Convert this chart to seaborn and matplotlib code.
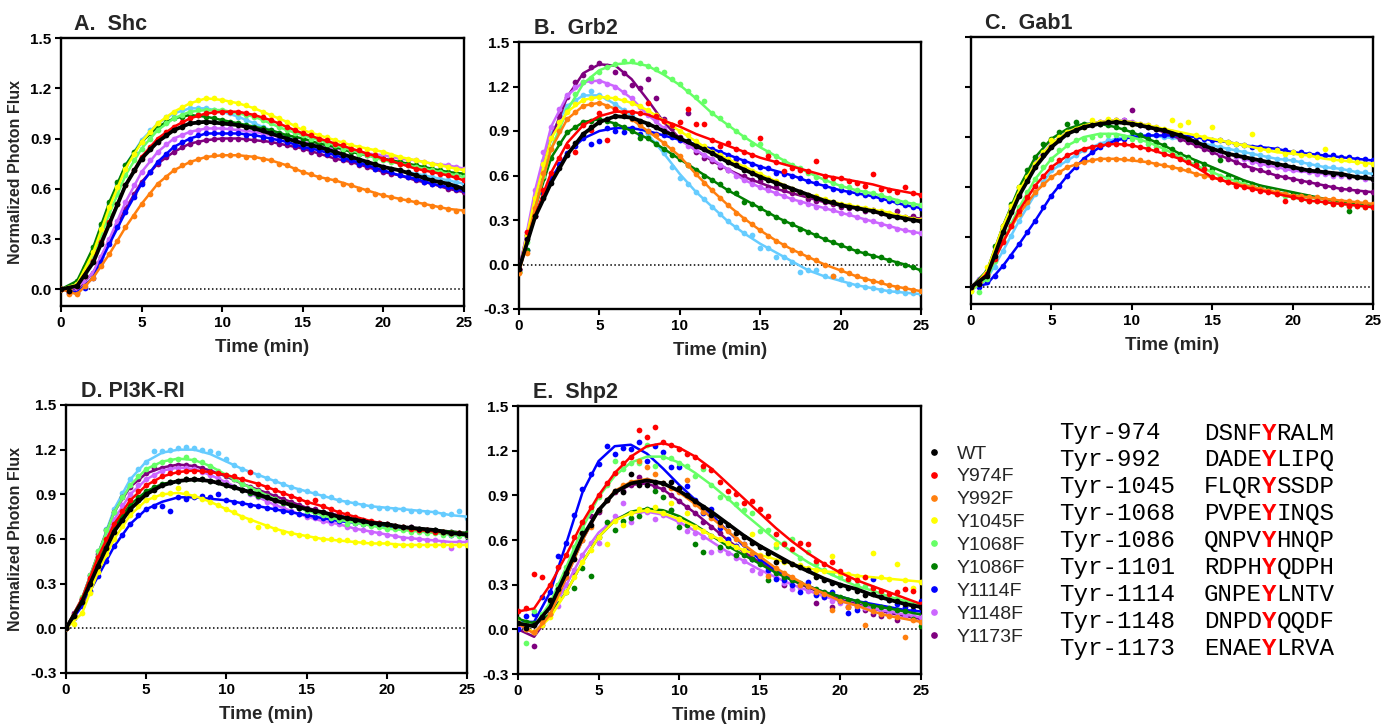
import numpy as np
import pandas as pd
import matplotlib
matplotlib.use("Agg")
from matplotlib import pyplot as plt
from matplotlib.lines import Line2D
from matplotlib.ticker import FormatStrFormatter
import seaborn as sns

FIT_STEP = 1.0   # minutes between fitted curve values
OBS_STEP = 0.5   # minutes between measured points

mutants = ["WT", "Y974F", "Y992F", "Y1045F", "Y1068F", "Y1086F",
           "Y1114F", "Y1148F", "Y1173F", "Y1101F"]
# Y1101F (light blue) is plotted but is missing from the published legend
legend_mutants = mutants[:9]
colors = {
    "WT": "#000000", "Y974F": "#ff0000", "Y992F": "#ff7f0e", "Y1045F": "#ffff00",
    "Y1068F": "#66ff66", "Y1086F": "#007f00", "Y1114F": "#0000ff",
    "Y1148F": "#cc66ff", "Y1173F": "#7f007f", "Y1101F": "#66ccff",
}
draw_order = ["Y1101F", "Y1173F", "Y1148F", "Y1114F", "Y1086F", "Y1068F",
              "Y1045F", "Y992F", "Y974F", "WT"]

# ---------------- A. Shc ----------------
shc_fit = {
    "WT": [0.00, 0.02, 0.16, 0.39, 0.62, 0.78, 0.88, 0.95, 0.99, 1.00, 0.99, 0.98, 0.96, 0.93, 0.90, 0.87, 0.85, 0.82, 0.79, 0.76, 0.73, 0.71, 0.68, 0.65, 0.63, 0.60],
    "Y1086F": [0.00, 0.05, 0.25, 0.52, 0.74, 0.88, 0.97, 1.02, 1.04, 1.03, 1.01, 0.99, 0.97, 0.95, 0.92, 0.90, 0.87, 0.85, 0.82, 0.80, 0.78, 0.76, 0.74, 0.72, 0.70, 0.69],
    "Y1045F": [0.00, 0.03, 0.22, 0.49, 0.72, 0.88, 0.99, 1.06, 1.11, 1.14, 1.13, 1.11, 1.08, 1.04, 1.00, 0.95, 0.92, 0.89, 0.86, 0.84, 0.82, 0.79, 0.77, 0.75, 0.73, 0.71],
    "Y1101F": [0.00, 0.04, 0.24, 0.51, 0.74, 0.89, 0.99, 1.05, 1.08, 1.08, 1.06, 1.03, 0.99, 0.95, 0.91, 0.87, 0.84, 0.81, 0.78, 0.75, 0.73, 0.71, 0.69, 0.67, 0.65, 0.63],
    "Y1068F": [0.00, 0.03, 0.20, 0.45, 0.68, 0.84, 0.95, 1.02, 1.06, 1.07, 1.07, 1.05, 1.03, 0.99, 0.95, 0.92, 0.89, 0.86, 0.83, 0.80, 0.77, 0.75, 0.73, 0.71, 0.69, 0.67],
    "Y974F": [0.00, 0.02, 0.17, 0.40, 0.62, 0.79, 0.90, 0.97, 1.02, 1.05, 1.06, 1.06, 1.04, 1.01, 0.97, 0.93, 0.90, 0.87, 0.84, 0.81, 0.78, 0.75, 0.72, 0.70, 0.68, 0.65],
    "Y1148F": [0.00, 0.01, 0.10, 0.30, 0.52, 0.70, 0.82, 0.90, 0.94, 0.96, 0.96, 0.95, 0.94, 0.92, 0.90, 0.88, 0.86, 0.84, 0.83, 0.81, 0.80, 0.78, 0.77, 0.75, 0.74, 0.72],
    "Y1114F": [0.00, -0.02, 0.07, 0.27, 0.46, 0.63, 0.76, 0.85, 0.90, 0.93, 0.93, 0.93, 0.92, 0.90, 0.88, 0.85, 0.83, 0.80, 0.77, 0.74, 0.71, 0.68, 0.66, 0.63, 0.61, 0.59],
    "Y1173F": [0.00, 0.00, 0.10, 0.29, 0.48, 0.64, 0.75, 0.82, 0.87, 0.89, 0.90, 0.90, 0.89, 0.88, 0.86, 0.84, 0.81, 0.78, 0.76, 0.73, 0.70, 0.68, 0.65, 0.63, 0.60, 0.58],
    "Y992F": [0.00, -0.03, 0.07, 0.21, 0.37, 0.51, 0.63, 0.71, 0.76, 0.79, 0.80, 0.80, 0.79, 0.77, 0.74, 0.70, 0.67, 0.65, 0.62, 0.59, 0.56, 0.54, 0.52, 0.50, 0.48, 0.47],
}
shc_obs = {
    "WT": [0.00, -0.01, 0.02, 0.08, 0.16, 0.27, 0.39, 0.51, 0.62, 0.71, 0.78, 0.84, 0.88, 0.92, 0.95, 0.97, 0.99, 1.00, 1.00, 1.00, 0.99, 0.99, 0.98, 0.97, 0.96, 0.95, 0.93, 0.92, 0.90, 0.89, 0.87, 0.86, 0.85, 0.83, 0.82, 0.80, 0.79, 0.77, 0.76, 0.75, 0.73, 0.72, 0.71, 0.70, 0.68, 0.67, 0.65, 0.64, 0.63, 0.61, 0.60],
    "Y1086F": [0.00, -0.01, 0.05, 0.13, 0.25, 0.39, 0.52, 0.64, 0.74, 0.82, 0.88, 0.93, 0.97, 1.00, 1.02, 1.03, 1.04, 1.04, 1.03, 1.02, 1.01, 1.00, 0.99, 0.98, 0.97, 0.96, 0.95, 0.93, 0.92, 0.91, 0.90, 0.88, 0.87, 0.86, 0.85, 0.83, 0.82, 0.81, 0.80, 0.79, 0.78, 0.77, 0.76, 0.75, 0.74, 0.73, 0.72, 0.71, 0.70, 0.69, 0.69],
    "Y1045F": [0.00, 0.00, 0.03, 0.11, 0.22, 0.36, 0.49, 0.61, 0.72, 0.81, 0.88, 0.94, 0.99, 1.03, 1.06, 1.09, 1.11, 1.13, 1.14, 1.14, 1.13, 1.12, 1.11, 1.10, 1.08, 1.06, 1.04, 1.02, 1.00, 0.98, 0.96, 0.94, 0.92, 0.91, 0.89, 0.88, 0.86, 0.85, 0.84, 0.83, 0.82, 0.80, 0.79, 0.78, 0.77, 0.76, 0.75, 0.74, 0.73, 0.72, 0.71],
    "Y1101F": [0.00, -0.01, 0.04, 0.12, 0.24, 0.38, 0.51, 0.63, 0.74, 0.82, 0.89, 0.95, 0.99, 1.03, 1.05, 1.07, 1.08, 1.08, 1.08, 1.07, 1.06, 1.05, 1.03, 1.01, 0.99, 0.97, 0.95, 0.93, 0.91, 0.89, 0.87, 0.86, 0.84, 0.83, 0.81, 0.80, 0.78, 0.77, 0.75, 0.74, 0.73, 0.72, 0.71, 0.70, 0.69, 0.68, 0.67, 0.66, 0.65, 0.64, 0.63],
    "Y1068F": [0.00, -0.01, 0.03, 0.10, 0.20, 0.32, 0.45, 0.57, 0.68, 0.77, 0.84, 0.90, 0.95, 0.99, 1.02, 1.04, 1.06, 1.07, 1.07, 1.07, 1.07, 1.06, 1.05, 1.04, 1.03, 1.01, 0.99, 0.97, 0.95, 0.93, 0.92, 0.90, 0.89, 0.87, 0.86, 0.84, 0.83, 0.81, 0.80, 0.78, 0.77, 0.76, 0.75, 0.74, 0.73, 0.72, 0.71, 0.70, 0.69, 0.68, 0.67],
    "Y974F": [0.00, -0.01, 0.02, 0.08, 0.17, 0.28, 0.40, 0.51, 0.62, 0.71, 0.79, 0.85, 0.90, 0.94, 0.97, 1.00, 1.02, 1.04, 1.05, 1.06, 1.06, 1.06, 1.06, 1.05, 1.04, 1.03, 1.01, 0.99, 0.97, 0.95, 0.93, 0.92, 0.90, 0.89, 0.87, 0.86, 0.84, 0.83, 0.81, 0.80, 0.78, 0.77, 0.75, 0.74, 0.72, 0.71, 0.70, 0.69, 0.68, 0.67, 0.65],
    "Y1148F": [0.00, -0.01, 0.01, 0.04, 0.10, 0.19, 0.30, 0.41, 0.52, 0.62, 0.70, 0.77, 0.82, 0.87, 0.90, 0.92, 0.94, 0.95, 0.96, 0.96, 0.96, 0.96, 0.95, 0.95, 0.94, 0.93, 0.92, 0.91, 0.90, 0.89, 0.88, 0.87, 0.86, 0.85, 0.84, 0.84, 0.83, 0.82, 0.81, 0.80, 0.80, 0.79, 0.78, 0.77, 0.77, 0.76, 0.75, 0.74, 0.74, 0.73, 0.72],
    "Y1114F": [0.00, -0.02, -0.02, 0.01, 0.07, 0.16, 0.27, 0.37, 0.46, 0.55, 0.63, 0.70, 0.76, 0.81, 0.85, 0.88, 0.90, 0.92, 0.93, 0.93, 0.93, 0.93, 0.93, 0.92, 0.92, 0.91, 0.90, 0.89, 0.88, 0.86, 0.85, 0.84, 0.83, 0.81, 0.80, 0.78, 0.77, 0.75, 0.74, 0.72, 0.71, 0.70, 0.68, 0.67, 0.66, 0.64, 0.63, 0.62, 0.61, 0.60, 0.59],
    "Y1173F": [0.00, -0.01, 0.00, 0.04, 0.10, 0.19, 0.29, 0.39, 0.48, 0.57, 0.64, 0.70, 0.75, 0.79, 0.82, 0.85, 0.87, 0.88, 0.89, 0.90, 0.90, 0.90, 0.90, 0.90, 0.89, 0.89, 0.88, 0.87, 0.86, 0.85, 0.84, 0.82, 0.81, 0.80, 0.78, 0.77, 0.76, 0.74, 0.73, 0.72, 0.70, 0.69, 0.68, 0.67, 0.65, 0.64, 0.63, 0.62, 0.60, 0.59, 0.58],
    "Y992F": [0.00, -0.03, -0.03, 0.02, 0.07, 0.14, 0.21, 0.29, 0.37, 0.44, 0.51, 0.57, 0.63, 0.67, 0.71, 0.74, 0.76, 0.78, 0.79, 0.80, 0.80, 0.80, 0.80, 0.79, 0.79, 0.78, 0.77, 0.75, 0.74, 0.72, 0.70, 0.69, 0.67, 0.66, 0.65, 0.63, 0.62, 0.60, 0.59, 0.57, 0.56, 0.55, 0.54, 0.53, 0.52, 0.51, 0.50, 0.49, 0.48, 0.47, 0.47],
}

# ---------------- B. Grb2 ----------------
grb2_fit = {
    "WT": [-0.03, 0.32, 0.55, 0.74, 0.88, 0.96, 1.00, 0.99, 0.95, 0.90, 0.85, 0.80, 0.75, 0.69, 0.64, 0.59, 0.55, 0.51, 0.47, 0.43, 0.40, 0.38, 0.36, 0.33, 0.31, 0.29],
    "Y1173F": [-0.03, 0.45, 0.85, 1.13, 1.29, 1.35, 1.34, 1.25, 1.11, 0.96, 0.85, 0.77, 0.70, 0.64, 0.59, 0.55, 0.51, 0.48, 0.45, 0.42, 0.40, 0.38, 0.36, 0.34, 0.32, 0.31],
    "Y1068F": [-0.05, 0.38, 0.78, 1.04, 1.22, 1.31, 1.35, 1.36, 1.34, 1.28, 1.21, 1.12, 1.02, 0.94, 0.86, 0.79, 0.73, 0.67, 0.62, 0.57, 0.53, 0.50, 0.48, 0.45, 0.42, 0.40],
    "Y1148F": [-0.05, 0.50, 0.93, 1.14, 1.23, 1.24, 1.20, 1.12, 1.01, 0.92, 0.84, 0.77, 0.71, 0.64, 0.57, 0.52, 0.48, 0.44, 0.41, 0.38, 0.35, 0.32, 0.29, 0.26, 0.23, 0.21],
    "Y1101F": [-0.05, 0.45, 0.88, 1.07, 1.14, 1.14, 1.08, 1.00, 0.88, 0.75, 0.61, 0.49, 0.39, 0.29, 0.21, 0.14, 0.08, 0.02, -0.04, -0.08, -0.11, -0.14, -0.16, -0.18, -0.19, -0.20],
    "Y992F": [-0.06, 0.38, 0.78, 0.98, 1.07, 1.09, 1.05, 0.98, 0.90, 0.82, 0.73, 0.61, 0.50, 0.40, 0.31, 0.23, 0.16, 0.10, 0.05, 0.00, -0.04, -0.08, -0.11, -0.14, -0.16, -0.18],
    "Y1045F": [-0.05, 0.45, 0.85, 1.03, 1.11, 1.13, 1.12, 1.09, 1.04, 0.97, 0.90, 0.83, 0.76, 0.71, 0.66, 0.61, 0.56, 0.51, 0.47, 0.44, 0.41, 0.39, 0.37, 0.35, 0.32, 0.30],
    "Y974F": [-0.03, 0.33, 0.62, 0.82, 0.94, 1.00, 1.03, 1.03, 1.01, 0.97, 0.93, 0.88, 0.84, 0.80, 0.76, 0.72, 0.69, 0.66, 0.63, 0.60, 0.58, 0.56, 0.54, 0.51, 0.49, 0.47],
    "Y1086F": [-0.05, 0.38, 0.72, 0.89, 0.96, 0.98, 0.95, 0.90, 0.85, 0.78, 0.71, 0.64, 0.57, 0.50, 0.44, 0.38, 0.32, 0.27, 0.22, 0.17, 0.13, 0.09, 0.06, 0.03, 0.00, -0.04],
    "Y1114F": [-0.04, 0.33, 0.58, 0.75, 0.85, 0.90, 0.92, 0.92, 0.90, 0.87, 0.84, 0.81, 0.78, 0.74, 0.70, 0.66, 0.63, 0.60, 0.56, 0.53, 0.50, 0.48, 0.46, 0.43, 0.40, 0.38],
}
grb2_obs = {
    "WT": [-0.03, 0.17, 0.33, 0.45, 0.55, 0.65, 0.74, 0.82, 0.88, 0.93, 0.96, 0.98, 1.00, 1.00, 0.99, 0.97, 0.95, 0.93, 0.90, 0.88, 0.85, 0.83, 0.80, 0.78, 0.75, 0.72, 0.69, 0.67, 0.64, 0.62, 0.59, 0.57, 0.55, 0.53, 0.51, 0.49, 0.47, 0.45, 0.43, 0.42, 0.40, 0.39, 0.38, 0.37, 0.36, 0.35, 0.33, 0.32, 0.31, 0.30, 0.29],
    "Y1173F": [-0.03, 0.20, 0.45, 0.68, 0.85, 1.00, 1.13, 1.23, 1.28, 1.33, 1.36, 1.34, 1.30, 1.29, 1.21, 1.19, 1.25, 1.12, 0.98, 0.92, 0.86, 1.02, 0.76, 0.72, 0.70, 0.66, 0.64, 0.71, 0.60, 0.57, 0.56, 0.52, 0.52, 0.50, 0.48, 0.48, 0.44, 0.43, 0.42, 0.41, 0.39, 0.38, 0.38, 0.36, 0.37, 0.35, 0.34, 0.36, 0.32, 0.33, 0.31],
    "Y1068F": [-0.05, 0.15, 0.38, 0.60, 0.78, 0.92, 1.04, 1.15, 1.23, 1.26, 1.30, 1.33, 1.35, 1.37, 1.37, 1.36, 1.34, 1.32, 1.30, 1.25, 1.22, 1.17, 1.13, 1.10, 1.02, 0.99, 0.94, 0.90, 0.86, 0.81, 0.81, 0.76, 0.73, 0.70, 0.67, 0.65, 0.62, 0.59, 0.57, 0.55, 0.53, 0.52, 0.50, 0.49, 0.48, 0.47, 0.45, 0.43, 0.42, 0.41, 0.40],
    "Y1148F": [-0.05, 0.22, 0.50, 0.76, 0.93, 1.05, 1.14, 1.20, 1.23, 1.24, 1.24, 1.22, 1.20, 1.16, 1.12, 1.06, 1.01, 0.97, 0.92, 0.88, 0.84, 0.80, 0.77, 0.74, 0.71, 0.67, 0.64, 0.60, 0.57, 0.54, 0.52, 0.50, 0.48, 0.46, 0.44, 0.42, 0.41, 0.39, 0.38, 0.37, 0.35, 0.34, 0.32, 0.30, 0.29, 0.27, 0.26, 0.24, 0.23, 0.22, 0.21],
    "Y1101F": [-0.05, 0.20, 0.45, 0.70, 0.88, 1.00, 1.07, 1.11, 1.14, 1.17, 1.14, 1.12, 1.08, 1.04, 1.00, 0.95, 0.88, 0.82, 0.75, 0.66, 0.58, 0.54, 0.49, 0.44, 0.39, 0.34, 0.29, 0.25, 0.21, 0.20, 0.11, 0.11, 0.05, 0.05, 0.02, -0.05, -0.04, -0.04, -0.08, -0.08, -0.10, -0.13, -0.14, -0.15, -0.16, -0.17, -0.18, -0.18, -0.19, -0.19, -0.20],
    "Y992F": [-0.06, 0.08, 0.38, 0.62, 0.78, 0.90, 0.98, 1.03, 1.07, 1.08, 1.09, 1.07, 1.05, 1.02, 0.98, 0.94, 0.90, 0.87, 0.82, 0.78, 0.73, 0.67, 0.61, 0.55, 0.50, 0.45, 0.40, 0.35, 0.31, 0.27, 0.23, 0.19, 0.16, 0.13, 0.10, 0.08, 0.05, 0.03, 0.00, -0.08, -0.04, -0.06, -0.08, -0.10, -0.11, -0.12, -0.14, -0.15, -0.16, -0.17, -0.18],
    "Y1045F": [-0.05, 0.20, 0.45, 0.68, 0.85, 0.96, 1.03, 1.08, 1.11, 1.12, 1.13, 1.13, 1.12, 1.11, 1.09, 1.07, 1.04, 1.01, 0.97, 0.94, 0.90, 0.87, 0.83, 0.80, 0.76, 0.74, 0.71, 0.68, 0.66, 0.63, 0.61, 0.58, 0.56, 0.53, 0.51, 0.49, 0.47, 0.46, 0.44, 0.42, 0.41, 0.40, 0.39, 0.38, 0.37, 0.36, 0.35, 0.33, 0.32, 0.31, 0.30],
    "Y974F": [-0.03, 0.22, 0.33, 0.50, 0.62, 0.72, 0.80, 0.76, 0.94, 0.91, 1.02, 0.84, 1.05, 1.03, 1.03, 1.02, 1.09, 1.00, 0.97, 0.94, 0.96, 1.05, 0.95, 0.95, 0.84, 0.80, 0.82, 0.78, 0.76, 0.74, 0.85, 0.73, 0.69, 0.63, 0.65, 0.64, 0.63, 0.70, 0.60, 0.58, 0.58, 0.56, 0.55, 0.53, 0.61, 0.51, 0.50, 0.49, 0.52, 0.48, 0.47],
    "Y1086F": [-0.05, 0.10, 0.38, 0.58, 0.72, 0.82, 0.89, 0.93, 0.96, 0.97, 0.98, 0.97, 0.95, 0.93, 0.90, 0.85, 0.85, 0.81, 0.78, 0.74, 0.71, 0.67, 0.64, 0.60, 0.57, 0.54, 0.50, 0.48, 0.42, 0.41, 0.38, 0.35, 0.32, 0.29, 0.27, 0.24, 0.22, 0.20, 0.17, 0.15, 0.13, 0.11, 0.09, 0.08, 0.06, 0.05, 0.03, 0.01, 0.00, -0.02, -0.04],
    "Y1114F": [-0.04, 0.10, 0.33, 0.48, 0.58, 0.68, 0.75, 0.80, 0.85, 0.81, 0.83, 0.92, 0.90, 0.89, 0.92, 0.88, 0.90, 0.88, 0.87, 0.86, 0.84, 0.83, 0.81, 0.79, 0.78, 0.76, 0.74, 0.72, 0.70, 0.68, 0.66, 0.65, 0.62, 0.61, 0.60, 0.58, 0.56, 0.55, 0.53, 0.51, 0.50, 0.49, 0.48, 0.47, 0.46, 0.44, 0.43, 0.42, 0.40, 0.39, 0.38],
}

# ---------------- C. Gab1 ----------------
gab1_fit = {
    "WT": [0.00, 0.07, 0.33, 0.55, 0.72, 0.84, 0.92, 0.96, 0.98, 0.99, 0.98, 0.96, 0.94, 0.91, 0.87, 0.83, 0.80, 0.78, 0.76, 0.74, 0.72, 0.70, 0.69, 0.68, 0.66, 0.65],
    "Y1045F": [-0.02, 0.10, 0.37, 0.58, 0.74, 0.86, 0.93, 0.97, 0.99, 1.00, 0.99, 0.97, 0.95, 0.93, 0.91, 0.89, 0.87, 0.85, 0.83, 0.81, 0.80, 0.79, 0.77, 0.76, 0.75, 0.74],
    "Y1114F": [0.00, 0.02, 0.13, 0.26, 0.40, 0.55, 0.67, 0.77, 0.84, 0.88, 0.90, 0.91, 0.91, 0.91, 0.90, 0.88, 0.87, 0.85, 0.84, 0.83, 0.81, 0.80, 0.79, 0.78, 0.77, 0.76],
    "Y1101F": [0.00, 0.05, 0.22, 0.40, 0.56, 0.70, 0.76, 0.82, 0.86, 0.89, 0.91, 0.91, 0.90, 0.89, 0.87, 0.85, 0.83, 0.81, 0.79, 0.77, 0.76, 0.74, 0.72, 0.71, 0.69, 0.68],
    "Y1148F": [0.00, 0.10, 0.37, 0.58, 0.75, 0.86, 0.93, 0.97, 0.99, 1.00, 0.99, 0.97, 0.94, 0.91, 0.87, 0.83, 0.80, 0.77, 0.74, 0.72, 0.70, 0.69, 0.68, 0.67, 0.66, 0.65],
    "Y1173F": [0.00, 0.09, 0.35, 0.56, 0.73, 0.85, 0.93, 0.97, 0.99, 1.00, 0.99, 0.96, 0.93, 0.89, 0.85, 0.81, 0.77, 0.73, 0.70, 0.67, 0.65, 0.63, 0.61, 0.59, 0.58, 0.57],
    "Y1086F": [0.00, 0.10, 0.37, 0.60, 0.78, 0.89, 0.95, 0.98, 0.98, 0.96, 0.93, 0.89, 0.85, 0.80, 0.76, 0.72, 0.68, 0.64, 0.61, 0.59, 0.57, 0.55, 0.53, 0.51, 0.50, 0.49],
    "Y1068F": [-0.02, 0.05, 0.28, 0.48, 0.65, 0.77, 0.85, 0.90, 0.92, 0.92, 0.90, 0.87, 0.83, 0.78, 0.73, 0.69, 0.65, 0.62, 0.59, 0.56, 0.54, 0.52, 0.51, 0.50, 0.49, 0.48],
    "Y974F": [0.00, 0.08, 0.27, 0.46, 0.61, 0.72, 0.79, 0.83, 0.85, 0.86, 0.85, 0.83, 0.80, 0.77, 0.72, 0.66, 0.63, 0.60, 0.58, 0.56, 0.54, 0.52, 0.51, 0.50, 0.49, 0.48],
    "Y992F": [0.00, 0.08, 0.28, 0.44, 0.57, 0.66, 0.72, 0.75, 0.77, 0.77, 0.76, 0.75, 0.73, 0.71, 0.68, 0.66, 0.63, 0.61, 0.59, 0.57, 0.55, 0.54, 0.53, 0.52, 0.51, 0.50],
}
gab1_obs = {
    "WT": [0.00, 0.02, 0.07, 0.19, 0.33, 0.45, 0.55, 0.64, 0.72, 0.79, 0.84, 0.88, 0.92, 0.94, 0.96, 0.97, 0.98, 0.99, 0.99, 0.99, 0.98, 0.97, 0.96, 0.95, 0.94, 0.92, 0.91, 0.89, 0.87, 0.85, 0.83, 0.82, 0.80, 0.79, 0.78, 0.77, 0.76, 0.75, 0.74, 0.73, 0.72, 0.71, 0.70, 0.70, 0.69, 0.68, 0.68, 0.67, 0.66, 0.66, 0.65],
    "Y1045F": [-0.02, 0.03, 0.12, 0.22, 0.37, 0.49, 0.60, 0.66, 0.74, 0.81, 0.88, 0.90, 0.93, 0.95, 0.96, 1.00, 0.99, 1.01, 1.00, 0.99, 0.98, 0.98, 0.97, 0.96, 0.95, 1.00, 0.97, 0.99, 0.91, 0.90, 0.96, 0.88, 0.87, 0.86, 0.85, 0.92, 0.83, 0.82, 0.82, 0.80, 0.81, 0.79, 0.79, 0.78, 0.83, 0.77, 0.76, 0.76, 0.75, 0.74, 0.74],
    "Y1114F": [0.00, 0.00, 0.03, 0.07, 0.13, 0.19, 0.26, 0.33, 0.40, 0.48, 0.55, 0.61, 0.67, 0.72, 0.77, 0.81, 0.84, 0.86, 0.88, 0.89, 0.90, 0.91, 0.91, 0.91, 0.91, 0.91, 0.91, 0.90, 0.90, 0.89, 0.88, 0.88, 0.87, 0.86, 0.85, 0.84, 0.84, 0.83, 0.83, 0.82, 0.81, 0.81, 0.80, 0.80, 0.79, 0.79, 0.78, 0.78, 0.77, 0.77, 0.76],
    "Y1101F": [0.00, 0.02, 0.05, 0.12, 0.22, 0.31, 0.40, 0.48, 0.56, 0.63, 0.70, 0.74, 0.76, 0.79, 0.82, 0.84, 0.86, 0.88, 0.89, 0.90, 0.91, 0.91, 0.91, 0.91, 0.90, 0.90, 0.89, 0.88, 0.87, 0.86, 0.85, 0.84, 0.83, 0.82, 0.81, 0.80, 0.79, 0.78, 0.77, 0.77, 0.76, 0.75, 0.74, 0.73, 0.72, 0.72, 0.71, 0.70, 0.69, 0.69, 0.68],
    "Y1148F": [0.00, 0.05, 0.10, 0.24, 0.37, 0.48, 0.58, 0.67, 0.75, 0.81, 0.86, 0.90, 0.93, 0.95, 0.97, 0.98, 0.99, 1.00, 1.00, 1.00, 0.99, 0.98, 0.97, 0.96, 0.94, 0.93, 0.91, 0.89, 0.87, 0.85, 0.83, 0.81, 0.80, 0.78, 0.77, 0.75, 0.74, 0.73, 0.72, 0.71, 0.70, 0.70, 0.69, 0.68, 0.68, 0.67, 0.67, 0.66, 0.66, 0.65, 0.65],
    "Y1173F": [0.00, 0.03, 0.09, 0.22, 0.35, 0.46, 0.56, 0.65, 0.73, 0.80, 0.85, 0.89, 0.93, 0.95, 0.97, 0.98, 0.99, 1.00, 1.00, 1.00, 1.06, 0.97, 0.96, 0.95, 0.93, 0.91, 0.89, 0.87, 0.85, 0.83, 0.81, 0.79, 0.77, 0.75, 0.73, 0.71, 0.70, 0.69, 0.67, 0.66, 0.65, 0.64, 0.63, 0.62, 0.61, 0.60, 0.59, 0.59, 0.58, 0.57, 0.57],
    "Y1086F": [0.00, 0.03, 0.10, 0.25, 0.37, 0.50, 0.60, 0.70, 0.78, 0.86, 0.89, 0.93, 0.98, 0.99, 0.98, 0.98, 0.98, 0.97, 0.96, 0.95, 0.93, 0.91, 0.89, 0.87, 0.85, 0.83, 0.80, 0.78, 0.75, 0.74, 0.71, 0.76, 0.67, 0.65, 0.63, 0.62, 0.60, 0.59, 0.57, 0.56, 0.56, 0.55, 0.54, 0.53, 0.52, 0.52, 0.51, 0.46, 0.50, 0.50, 0.49],
    "Y1068F": [-0.02, -0.03, 0.05, 0.16, 0.28, 0.38, 0.48, 0.57, 0.65, 0.72, 0.77, 0.82, 0.85, 0.88, 0.89, 0.90, 0.91, 0.91, 0.91, 0.90, 0.89, 0.88, 0.86, 0.84, 0.82, 0.80, 0.78, 0.76, 0.73, 0.71, 0.69, 0.67, 0.65, 0.63, 0.62, 0.60, 0.59, 0.58, 0.56, 0.55, 0.54, 0.53, 0.52, 0.52, 0.51, 0.50, 0.50, 0.49, 0.49, 0.48, 0.48],
    "Y974F": [0.00, 0.03, 0.08, 0.17, 0.27, 0.37, 0.46, 0.54, 0.61, 0.67, 0.72, 0.76, 0.79, 0.81, 0.83, 0.84, 0.85, 0.86, 0.86, 0.86, 0.85, 0.84, 0.83, 0.82, 0.80, 0.79, 0.77, 0.75, 0.73, 0.71, 0.66, 0.65, 0.63, 0.61, 0.60, 0.59, 0.58, 0.57, 0.56, 0.52, 0.54, 0.53, 0.52, 0.52, 0.51, 0.50, 0.50, 0.49, 0.49, 0.48, 0.48],
    "Y992F": [0.00, 0.03, 0.08, 0.18, 0.28, 0.37, 0.44, 0.51, 0.57, 0.62, 0.66, 0.69, 0.72, 0.74, 0.75, 0.76, 0.77, 0.77, 0.77, 0.77, 0.77, 0.76, 0.75, 0.74, 0.73, 0.72, 0.71, 0.70, 0.68, 0.67, 0.66, 0.65, 0.63, 0.62, 0.61, 0.60, 0.59, 0.58, 0.57, 0.56, 0.55, 0.55, 0.54, 0.54, 0.53, 0.53, 0.52, 0.52, 0.51, 0.51, 0.50],
}

# ---------------- D. PI3K-RI ----------------
pi3k_fit = {
    "WT": [0.00, 0.18, 0.42, 0.65, 0.80, 0.90, 0.96, 0.99, 1.00, 0.99, 0.96, 0.93, 0.90, 0.86, 0.83, 0.80, 0.78, 0.75, 0.73, 0.71, 0.70, 0.68, 0.67, 0.66, 0.64, 0.63],
    "Y1101F": [0.00, 0.20, 0.50, 0.80, 1.00, 1.12, 1.18, 1.20, 1.20, 1.17, 1.12, 1.07, 1.03, 0.99, 0.95, 0.92, 0.89, 0.86, 0.84, 0.82, 0.81, 0.80, 0.79, 0.78, 0.76, 0.75],
    "Y1068F": [0.00, 0.20, 0.50, 0.78, 0.96, 1.07, 1.12, 1.14, 1.13, 1.09, 1.03, 0.97, 0.92, 0.87, 0.83, 0.79, 0.76, 0.73, 0.71, 0.69, 0.67, 0.66, 0.65, 0.64, 0.63, 0.62],
    "Y1173F": [0.00, 0.20, 0.50, 0.78, 0.95, 1.04, 1.08, 1.10, 1.09, 1.06, 1.02, 0.97, 0.93, 0.89, 0.85, 0.81, 0.78, 0.76, 0.73, 0.71, 0.70, 0.68, 0.67, 0.66, 0.65, 0.64],
    "Y1148F": [0.00, 0.18, 0.46, 0.73, 0.90, 1.00, 1.06, 1.08, 1.07, 1.03, 0.98, 0.93, 0.88, 0.83, 0.79, 0.75, 0.72, 0.70, 0.67, 0.65, 0.63, 0.61, 0.60, 0.59, 0.58, 0.58],
    "Y974F": [0.00, 0.20, 0.48, 0.70, 0.86, 0.96, 1.02, 1.05, 1.06, 1.05, 1.03, 1.00, 0.97, 0.93, 0.89, 0.85, 0.82, 0.78, 0.75, 0.72, 0.70, 0.68, 0.66, 0.65, 0.64, 0.63],
    "Y1086F": [0.00, 0.19, 0.45, 0.68, 0.83, 0.92, 0.97, 0.99, 1.00, 0.99, 0.96, 0.93, 0.89, 0.86, 0.83, 0.80, 0.77, 0.75, 0.73, 0.71, 0.69, 0.68, 0.67, 0.66, 0.65, 0.64],
    "Y1045F": [0.00, 0.10, 0.38, 0.60, 0.76, 0.86, 0.90, 0.91, 0.89, 0.85, 0.80, 0.75, 0.71, 0.67, 0.64, 0.62, 0.60, 0.59, 0.58, 0.57, 0.57, 0.56, 0.56, 0.56, 0.56, 0.56],
    "Y1114F": [0.00, 0.15, 0.35, 0.55, 0.70, 0.80, 0.85, 0.88, 0.88, 0.87, 0.86, 0.84, 0.82, 0.80, 0.78, 0.76, 0.74, 0.72, 0.71, 0.70, 0.68, 0.67, 0.66, 0.65, 0.63, 0.62],
}
pi3k_obs = {
    "WT": [0.00, 0.08, 0.18, 0.30, 0.42, 0.54, 0.65, 0.73, 0.80, 0.86, 0.90, 0.93, 0.96, 0.98, 0.99, 1.00, 1.00, 1.00, 0.99, 0.98, 0.96, 0.95, 0.93, 0.92, 0.90, 0.88, 0.86, 0.85, 0.83, 0.81, 0.80, 0.79, 0.78, 0.76, 0.75, 0.74, 0.73, 0.72, 0.71, 0.70, 0.70, 0.69, 0.68, 0.68, 0.67, 0.66, 0.66, 0.65, 0.64, 0.64, 0.63],
    "Y1101F": [0.00, 0.09, 0.20, 0.35, 0.52, 0.67, 0.80, 0.91, 1.00, 1.07, 1.12, 1.19, 1.19, 1.20, 1.21, 1.22, 1.21, 1.20, 1.19, 1.18, 1.14, 1.10, 1.07, 1.05, 1.03, 1.01, 0.99, 0.97, 0.95, 0.93, 0.92, 0.91, 0.89, 0.88, 0.86, 0.85, 0.84, 0.83, 0.82, 0.81, 0.81, 0.80, 0.80, 0.79, 0.79, 0.78, 0.78, 0.77, 0.77, 0.79, 0.74],
    "Y1068F": [0.00, 0.09, 0.21, 0.36, 0.52, 0.66, 0.78, 0.88, 0.96, 1.02, 1.07, 1.10, 1.12, 1.13, 1.14, 1.15, 1.13, 1.12, 1.09, 1.06, 1.03, 1.00, 0.97, 0.94, 0.92, 0.89, 0.87, 0.85, 0.83, 0.81, 0.79, 0.78, 0.76, 0.74, 0.73, 0.70, 0.71, 0.70, 0.69, 0.68, 0.67, 0.67, 0.66, 0.65, 0.65, 0.64, 0.64, 0.63, 0.63, 0.62, 0.62],
    "Y1173F": [0.00, 0.10, 0.20, 0.36, 0.50, 0.66, 0.78, 0.88, 0.95, 1.00, 1.04, 1.08, 1.08, 1.09, 1.10, 1.10, 1.09, 1.08, 1.06, 1.04, 1.02, 1.00, 0.97, 0.95, 0.93, 0.91, 0.89, 0.87, 0.85, 0.83, 0.81, 0.80, 0.78, 0.77, 0.76, 0.74, 0.73, 0.72, 0.71, 0.71, 0.70, 0.69, 0.68, 0.68, 0.67, 0.66, 0.66, 0.65, 0.65, 0.64, 0.64],
    "Y1148F": [0.00, 0.08, 0.18, 0.32, 0.46, 0.60, 0.73, 0.83, 0.90, 0.96, 1.00, 1.03, 1.06, 1.07, 1.08, 1.08, 1.07, 1.05, 1.03, 1.01, 0.98, 0.95, 0.93, 0.90, 0.88, 0.85, 0.83, 0.81, 0.79, 0.77, 0.75, 0.74, 0.72, 0.71, 0.70, 0.68, 0.67, 0.66, 0.65, 0.64, 0.63, 0.62, 0.61, 0.61, 0.60, 0.59, 0.59, 0.58, 0.54, 0.58, 0.58],
    "Y974F": [0.00, 0.09, 0.20, 0.34, 0.48, 0.60, 0.70, 0.79, 0.86, 0.92, 0.96, 0.99, 1.02, 1.04, 1.05, 1.06, 1.06, 1.06, 1.05, 1.04, 1.03, 1.02, 1.00, 1.05, 0.97, 0.95, 0.93, 0.91, 0.89, 0.87, 0.85, 0.86, 0.82, 0.80, 0.78, 0.77, 0.75, 0.73, 0.72, 0.71, 0.70, 0.69, 0.68, 0.67, 0.66, 0.66, 0.65, 0.65, 0.64, 0.64, 0.63],
    "Y1086F": [0.00, 0.08, 0.19, 0.32, 0.45, 0.58, 0.68, 0.76, 0.83, 0.88, 0.92, 0.95, 0.97, 0.98, 0.99, 1.00, 1.00, 1.00, 0.99, 0.98, 0.96, 0.95, 0.93, 0.91, 0.89, 0.88, 0.86, 0.84, 0.83, 0.81, 0.80, 0.78, 0.77, 0.76, 0.75, 0.74, 0.73, 0.72, 0.71, 0.70, 0.69, 0.69, 0.68, 0.67, 0.67, 0.66, 0.66, 0.65, 0.65, 0.64, 0.64],
    "Y1045F": [0.00, 0.03, 0.10, 0.24, 0.38, 0.50, 0.60, 0.69, 0.76, 0.82, 0.86, 0.88, 0.90, 0.91, 0.94, 0.91, 0.89, 0.87, 0.85, 0.83, 0.80, 0.78, 0.75, 0.73, 0.68, 0.69, 0.67, 0.65, 0.64, 0.63, 0.62, 0.61, 0.60, 0.60, 0.59, 0.59, 0.58, 0.58, 0.57, 0.57, 0.57, 0.56, 0.56, 0.56, 0.56, 0.56, 0.56, 0.56, 0.56, 0.56, 0.56],
    "Y1114F": [0.00, 0.07, 0.15, 0.25, 0.35, 0.45, 0.55, 0.63, 0.70, 0.76, 0.80, 0.82, 0.82, 0.79, 0.88, 0.87, 0.88, 0.89, 0.88, 0.90, 0.86, 0.85, 0.84, 0.83, 0.82, 0.81, 0.80, 0.79, 0.78, 0.77, 0.76, 0.75, 0.74, 0.73, 0.72, 0.72, 0.71, 0.70, 0.70, 0.69, 0.68, 0.68, 0.67, 0.67, 0.66, 0.65, 0.65, 0.64, 0.63, 0.63, 0.62],
}

# ---------------- E. Shp2 ----------------
shp2_fit = {
    "WT": [0.04, 0.02, 0.15, 0.38, 0.62, 0.80, 0.92, 0.98, 1.00, 0.98, 0.93, 0.86, 0.79, 0.71, 0.63, 0.56, 0.50, 0.44, 0.39, 0.34, 0.30, 0.27, 0.23, 0.20, 0.17, 0.15],
    "Y974F": [0.12, 0.14, 0.30, 0.50, 0.72, 0.90, 1.05, 1.16, 1.23, 1.25, 1.22, 1.16, 1.08, 0.98, 0.88, 0.78, 0.68, 0.59, 0.51, 0.44, 0.38, 0.33, 0.29, 0.25, 0.21, 0.17],
    "Y1114F": [0.05, 0.05, 0.25, 0.58, 0.92, 1.13, 1.23, 1.24, 1.18, 1.08, 0.97, 0.87, 0.77, 0.66, 0.56, 0.47, 0.40, 0.34, 0.29, 0.25, 0.22, 0.19, 0.17, 0.15, 0.13, 0.12],
    "Y1068F": [0.05, 0.02, 0.18, 0.42, 0.68, 0.89, 1.03, 1.12, 1.16, 1.16, 1.12, 1.05, 0.97, 0.88, 0.78, 0.69, 0.60, 0.52, 0.45, 0.39, 0.34, 0.29, 0.26, 0.22, 0.19, 0.16],
    "Y992F": [0.04, -0.03, 0.10, 0.35, 0.60, 0.80, 0.93, 0.99, 1.01, 0.98, 0.92, 0.84, 0.75, 0.66, 0.57, 0.49, 0.41, 0.35, 0.29, 0.24, 0.19, 0.16, 0.12, 0.09, 0.07, 0.05],
    "Y1173F": [0.00, -0.05, 0.10, 0.35, 0.60, 0.80, 0.92, 0.97, 0.98, 0.94, 0.86, 0.78, 0.69, 0.60, 0.52, 0.45, 0.39, 0.33, 0.28, 0.24, 0.20, 0.17, 0.14, 0.11, 0.09, 0.07],
    "Y1086F": [0.07, 0.04, 0.10, 0.25, 0.45, 0.62, 0.73, 0.79, 0.81, 0.80, 0.76, 0.70, 0.63, 0.56, 0.50, 0.44, 0.38, 0.33, 0.29, 0.25, 0.22, 0.19, 0.16, 0.14, 0.12, 0.10],
    "Y1045F": [0.04, -0.02, 0.08, 0.25, 0.45, 0.62, 0.73, 0.78, 0.80, 0.78, 0.74, 0.69, 0.63, 0.58, 0.53, 0.50, 0.47, 0.44, 0.41, 0.39, 0.38, 0.36, 0.35, 0.34, 0.33, 0.32],
    "Y1148F": [0.03, -0.02, 0.10, 0.30, 0.50, 0.65, 0.74, 0.78, 0.79, 0.77, 0.72, 0.66, 0.59, 0.52, 0.46, 0.40, 0.35, 0.30, 0.26, 0.22, 0.19, 0.16, 0.14, 0.12, 0.10, 0.08],
}
shp2_obs = {
    "WT": [0.04, 0.01, 0.03, 0.08, 0.20, 0.27, 0.38, 0.47, 0.65, 0.70, 0.80, 0.87, 0.93, 0.92, 1.04, 0.97, 0.97, 0.99, 0.98, 0.99, 0.95, 0.90, 0.86, 0.82, 0.77, 0.72, 0.70, 0.65, 0.62, 0.58, 0.55, 0.51, 0.45, 0.46, 0.44, 0.42, 0.40, 0.35, 0.33, 0.31, 0.30, 0.28, 0.26, 0.23, 0.24, 0.22, 0.20, 0.19, 0.17, 0.16, 0.15],
    "Y974F": [0.12, 0.14, 0.37, 0.35, 0.30, 0.42, 0.50, 0.62, 0.72, 0.82, 0.90, 0.98, 1.05, 1.12, 1.16, 1.34, 1.29, 1.36, 1.26, 1.24, 1.21, 1.18, 1.16, 1.10, 1.07, 0.99, 0.93, 0.91, 0.85, 0.86, 0.81, 0.76, 0.64, 0.57, 0.54, 0.58, 0.57, 0.46, 0.44, 0.45, 0.39, 0.34, 0.33, 0.35, 0.28, 0.26, 0.24, 0.25, 0.27, 0.26, 0.17],
    "Y1114F": [0.00, 0.09, 0.10, 0.22, 0.25, 0.49, 0.58, 0.77, 0.94, 1.04, 1.11, 1.23, 1.18, 1.22, 1.21, 1.26, 1.13, 1.23, 1.19, 1.09, 1.09, 0.96, 0.87, 0.78, 0.81, 0.68, 0.61, 0.56, 0.57, 0.47, 0.47, 0.40, 0.34, 0.33, 0.30, 0.25, 0.32, 0.23, 0.22, 0.25, 0.19, 0.11, 0.13, 0.18, 0.34, 0.23, 0.20, 0.17, 0.15, 0.13, 0.19],
    "Y1068F": [0.05, -0.09, 0.12, 0.10, 0.18, 0.30, 0.42, 0.55, 0.68, 0.80, 0.89, 0.97, 1.13, 1.08, 1.12, 1.12, 1.24, 1.10, 1.16, 1.15, 1.12, 1.10, 1.03, 1.08, 0.97, 0.89, 0.88, 0.84, 0.80, 0.78, 0.66, 0.67, 0.55, 0.58, 0.61, 0.48, 0.52, 0.44, 0.40, 0.38, 0.35, 0.33, 0.30, 0.29, 0.26, 0.25, 0.22, 0.21, 0.19, 0.17, 0.16],
    "Y992F": [0.04, 0.00, -0.02, 0.05, 0.10, 0.25, 0.35, 0.47, 0.60, 0.69, 0.80, 0.87, 0.93, 0.97, 0.99, 1.13, 1.09, 1.04, 0.98, 0.95, 0.92, 1.00, 0.84, 0.79, 0.75, 0.70, 0.66, 0.61, 0.57, 0.51, 0.49, 0.36, 0.41, 0.38, 0.35, 0.30, 0.29, 0.25, 0.24, 0.13, 0.19, 0.15, 0.16, 0.03, 0.12, 0.10, 0.09, 0.08, -0.05, 0.06, 0.05],
    "Y1173F": [0.00, 0.03, -0.11, 0.03, 0.15, 0.27, 0.35, 0.38, 0.60, 0.76, 0.79, 0.87, 0.92, 0.93, 0.97, 1.02, 1.00, 0.96, 0.94, 0.90, 0.86, 0.82, 0.78, 0.72, 0.69, 0.65, 0.60, 0.56, 0.52, 0.47, 0.45, 0.42, 0.39, 0.30, 0.33, 0.30, 0.28, 0.18, 0.24, 0.15, 0.20, 0.15, 0.17, 0.13, 0.10, 0.09, 0.10, 0.06, 0.09, 0.08, 0.07],
    "Y1086F": [0.07, 0.05, 0.04, 0.06, 0.10, 0.30, 0.25, 0.28, 0.41, 0.36, 0.62, 0.72, 0.67, 0.73, 0.75, 0.76, 0.81, 0.93, 0.89, 0.80, 0.69, 0.70, 0.57, 0.52, 0.63, 0.55, 0.56, 0.50, 0.50, 0.47, 0.44, 0.33, 0.38, 0.35, 0.33, 0.31, 0.29, 0.27, 0.25, 0.24, 0.22, 0.20, 0.19, 0.17, 0.16, 0.15, 0.14, 0.13, 0.12, 0.07, 0.02],
    "Y1045F": [0.04, 0.00, -0.02, 0.03, 0.08, 0.21, 0.25, 0.35, 0.45, 0.53, 0.62, 0.57, 0.73, 0.70, 0.78, 0.81, 0.80, 0.82, 0.78, 0.85, 0.74, 0.78, 0.69, 0.66, 0.63, 0.61, 0.58, 0.55, 0.53, 0.64, 0.50, 0.49, 0.57, 0.45, 0.44, 0.43, 0.41, 0.40, 0.39, 0.49, 0.38, 0.37, 0.36, 0.35, 0.51, 0.35, 0.34, 0.44, 0.33, 0.28, 0.32],
    "Y1148F": [0.03, 0.03, -0.02, 0.05, 0.10, 0.16, 0.30, 0.40, 0.50, 0.58, 0.58, 0.70, 0.76, 0.85, 0.72, 0.79, 0.79, 0.74, 0.77, 0.80, 0.72, 0.66, 0.65, 0.62, 0.52, 0.53, 0.51, 0.48, 0.46, 0.40, 0.38, 0.38, 0.35, 0.31, 0.27, 0.28, 0.26, 0.24, 0.22, 0.19, 0.18, 0.16, 0.15, 0.14, 0.12, 0.11, 0.10, 0.09, 0.09, 0.09, 0.08],
}

# phosphosite table on the right
tyr_sites = ["Tyr-974", "Tyr-992", "Tyr-1045", "Tyr-1068", "Tyr-1086",
             "Tyr-1101", "Tyr-1114", "Tyr-1148", "Tyr-1173"]
seq_before = ["DSNF", "DADE", "FLQR", "PVPE", "QNPV", "RDPH", "GNPE", "DNPD", "ENAE"]
seq_after = ["RALM", "LIPQ", "SSDP", "INQS", "HNQP", "QDPH", "LNTV", "QQDF", "LRVA"]


def long_table(series, step):
    frames = []
    for name, vals in series.items():
        frames.append(pd.DataFrame({
            "Time (min)": np.arange(len(vals)) * step,
            "Flux": vals,
            "Mutant": name,
        }))
    return pd.concat(frames, ignore_index=True)


sns.set_theme(style="ticks")
plt.rcParams["font.family"] = ["Liberation Sans", "DejaVu Sans"]
plt.rcParams["font.weight"] = "bold"
plt.rcParams["axes.unicode_minus"] = False

W, H = 1382, 727
fig = plt.figure(figsize=(W / 100, H / 100), dpi=100)


def px_axes(left, top, right, bottom):
    return fig.add_axes([left / W, 1 - bottom / H, (right - left) / W, (bottom - top) / H])


def draw_panel(ax, fit, obs, title, title_x, ymin, yticks, ylabel, show_ylabels=True):
    fit_df = long_table(fit, FIT_STEP)
    obs_df = long_table(obs, OBS_STEP)
    ax.axhline(0, color="black", ls=(0, (1, 1.6)), lw=1.1, zorder=1)
    for i, name in enumerate(draw_order):
        if name not in fit:
            continue
        sns.scatterplot(data=obs_df[obs_df["Mutant"] == name], x="Time (min)", y="Flux",
                        color=colors[name], s=17, linewidth=0, ax=ax, legend=False,
                        zorder=2 + 2 * i)
        sns.lineplot(data=fit_df[fit_df["Mutant"] == name], x="Time (min)", y="Flux",
                     color=colors[name], lw=2.7 if name == "WT" else 1.8,
                     estimator=None, ax=ax, legend=False, zorder=3 + 2 * i)

    ax.set_xlim(0, 25)
    ax.set_ylim(ymin, 1.5)
    ax.set_xticks([0, 5, 10, 15, 20, 25])
    ax.set_yticks(yticks)
    ax.yaxis.set_major_formatter(FormatStrFormatter("%.1f"))
    for sp in ax.spines.values():
        sp.set_visible(True)
        sp.set_linewidth(1.7)
        sp.set_color("black")
    ax.tick_params(direction="out", length=4.5, width=1.5, pad=2.5,
                   labelsize=11, colors="black")
    if not show_ylabels:
        ax.tick_params(axis="y", labelleft=False)
    ax.set_xlabel("Time (min)", fontsize=13.5, fontweight="bold", labelpad=7)
    if ylabel:
        ax.set_ylabel("Normalized Photon Flux", fontsize=11.5, fontweight="bold", labelpad=5)
    else:
        ax.set_ylabel("")
    ax.text(title_x, 1.03, title, transform=ax.transAxes, fontsize=15.5,
            fontweight="bold", ha="left", va="baseline")


yt_short = [0.0, 0.3, 0.6, 0.9, 1.2, 1.5]
yt_long = [-0.3, 0.0, 0.3, 0.6, 0.9, 1.2, 1.5]

ax_a = px_axes(61, 38, 464, 306)
draw_panel(ax_a, shc_fit, shc_obs, "A.  Shc", 0.032, -0.1, yt_short, True)
ax_b = px_axes(519, 42, 921, 309)
draw_panel(ax_b, grb2_fit, grb2_obs, "B.  Grb2", 0.037, -0.3, yt_long, False)
ax_c = px_axes(971, 37, 1373, 304)
draw_panel(ax_c, gab1_fit, gab1_obs, "C.  Gab1", 0.035, -0.1, yt_short, False, show_ylabels=False)
ax_d = px_axes(66, 405, 467, 673)
draw_panel(ax_d, pi3k_fit, pi3k_obs, "D. PI3K-RI", 0.037, -0.3, yt_long, True)
ax_e = px_axes(518, 406, 921, 674)
draw_panel(ax_e, shp2_fit, shp2_obs, "E.  Shp2", 0.037, -0.3, yt_long, False)

# legend (dots only, as in the figure)
handles = [Line2D([], [], ls="none", marker="o", markersize=3.8,
                  markerfacecolor=colors[m], markeredgecolor=colors[m])
           for m in legend_mutants]
leg = fig.legend(handles, legend_mutants, loc="upper left",
                 bbox_to_anchor=(924.3 / W, 1 - 445 / H), frameon=False,
                 prop={"size": 14, "weight": "normal"}, borderpad=0,
                 borderaxespad=0, handlelength=1.0, handletextpad=0.68,
                 labelspacing=0.27)

# phosphosite table: monospace, the central tyrosine in red
mono_size = 17.4
char_w = 0.6 * mono_size * 100 / 72   # advance of one monospace glyph, px
mono = {"family": ["Liberation Mono", "DejaVu Sans Mono"], "size": mono_size, "weight": "normal"}
for i, site in enumerate(tyr_sites):
    y = 1 - (433 + i * 26.9) / H
    fig.text(1059 / W, y, site, va="center", ha="left", fontdict=mono, color="black")
    x0 = 1204
    fig.text(x0 / W, y, seq_before[i], va="center", ha="left", fontdict=mono, color="black")
    fig.text((x0 + len(seq_before[i]) * char_w) / W, y, "Y", va="center", ha="left",
             fontdict=dict(mono, weight="bold"), color="#ff0000")
    fig.text((x0 + (len(seq_before[i]) + 1) * char_w) / W, y, seq_after[i], va="center",
             ha="left", fontdict=mono, color="black")

fig.savefig("out.png", dpi=100)
